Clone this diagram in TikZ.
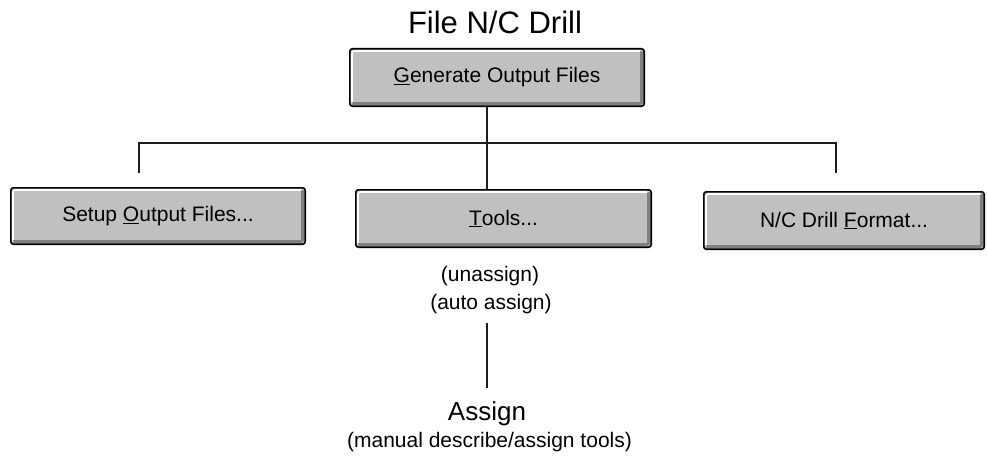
\documentclass[tikz,border=0pt]{standalone}
\usepackage{fontspec}
\setmainfont{Liberation Sans}
\definecolor{btngray}{RGB}{192,192,192}
\definecolor{bevelgray}{RGB}{128,128,128}
\definecolor{linecol}{RGB}{30,30,30}
\tikzset{
  btn/.style={rectangle, rounded corners=2.5pt, draw=black, line width=1.6pt,
    fill=btngray, inner sep=0pt, font=\fontsize{21}{24}\selectfont,
    path picture={
      \draw[bevelgray, line width=3pt]
        ([shift={(2.5pt,2.5pt)}]path picture bounding box.south west) --
        ([shift={(-2.5pt,2.5pt)}]path picture bounding box.south east) --
        ([shift={(-2.5pt,-2.5pt)}]path picture bounding box.north east);
      \draw[white, line width=1.6pt]
        ([shift={(2.2pt,4pt)}]path picture bounding box.south west) --
        ([shift={(2.2pt,-2.2pt)}]path picture bounding box.north west) --
        ([shift={(-4pt,-2.2pt)}]path picture bounding box.north east);
    }},
  small/.style={font=\fontsize{21}{24}\selectfont, inner sep=0pt},
  conn/.style={draw=linecol, line width=1.8pt}
}
\begin{document}
\begin{tikzpicture}
\useasboundingbox (0pt,0pt) rectangle (987pt,-460pt);

\node[font=\fontsize{31}{36}\selectfont, inner sep=0pt] (title) at (495pt,-22.5pt) {File N/C Drill};

\node[btn, minimum width=294.4pt, minimum height=57.4pt] (gen) at (497pt,-77.5pt) {\underline{G}enerate Output Files};
\node[btn, minimum width=294.4pt, minimum height=56.4pt] (setup) at (158pt,-216pt) {Setup \underline{O}utput Files...};
\node[btn, minimum width=295.4pt, minimum height=57.4pt] (tools) at (503.5pt,-218.5pt) {\underline{T}ools...};
\node[btn, minimum width=280.4pt, minimum height=57.4pt] (ncf) at (844pt,-220.5pt) {N/C Drill \underline{F}ormat...};

\node[small] (unassign) at (490pt,-276pt) {(unassign)};
\node[small] (autoassign) at (491pt,-304pt) {(auto assign)};

\node[font=\fontsize{26}{30}\selectfont, inner sep=0pt, anchor=base] (assign) at (487pt,-420pt) {Assign};
\node[small] (manual) at (489.5pt,-442pt) {(manual describe/assign tools)};

\coordinate (jm) at (487pt,-143pt);
\coordinate (dl) at (139pt,-173pt);
\coordinate (dr) at (836pt,-173pt);
\coordinate (vt) at (487pt,-323pt);
\coordinate (vb) at (487pt,-388pt);

\draw[conn] (gen.south -| jm) -- (tools.north -| jm);
\draw[conn] (dl) |- (jm) -| (dr);
\draw[conn] (vt) -- (vb);
\end{tikzpicture}
\end{document}
